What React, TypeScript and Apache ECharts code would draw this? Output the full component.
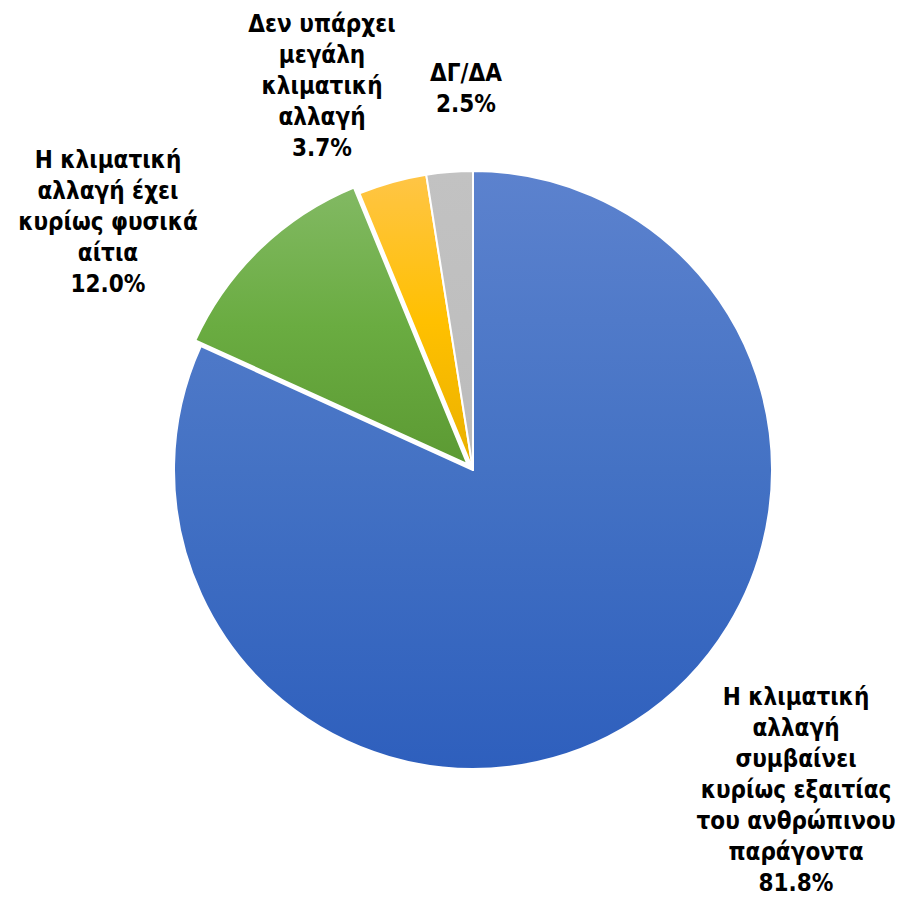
import React, { useEffect, useRef } from "react";
import * as echarts from "echarts";

const categories = [
  "Η κλιματική\nαλλαγή\nσυμβαίνει\nκυρίως εξαιτίας\nτου ανθρώπινου\nπαράγοντα",
  "Η κλιματική\nαλλαγή έχει\nκυρίως φυσικά\nαίτια",
  "Δεν υπάρχει\nμεγάλη\nκλιματική\nαλλαγή",
  "ΔΓ/ΔΑ",
];
const values = [81.8, 12.0, 3.7, 2.5];
const exploded = [false, true, false, false];

const gradients = [
  ["#5C82CE", "#4472C4", "#2E5FBD"],
  ["#82B963", "#6AAC41", "#5C9A33"],
  ["#FFC546", "#FFC000", "#E9B000"],
  ["#C2C2C2", "#BFBFBF", "#BBBBBB"],
];

// label block centers (px) in the 905x899 canvas
const labelCenters = [
  [796, 790],
  [108, 222],
  [322, 86],
  [466, 88],
];

export default function App() {
  const ref = useRef<HTMLDivElement>(null);
  useEffect(() => {
    document.body.style.margin = "0";
    const chart = echarts.init(ref.current!, undefined, { renderer: "svg" });
    const pieData = values.map((v, i) => ({
      name: categories[i],
      value: v,
      selected: exploded[i],
      itemStyle: {
        color: new echarts.graphic.LinearGradient(0, 0, 0, 1, [
          { offset: 0, color: gradients[i][0] },
          { offset: 0.5, color: gradients[i][1] },
          { offset: 1, color: gradients[i][2] },
        ]),
      },
    }));
    const labelData = values.map((v, i) => ({ name: categories[i], value: v }));
    const common = {
      type: "pie",
      center: [473, 470],
      radius: 299,
      startAngle: 90,
      clockwise: true,
      avoidLabelOverlap: false,
      emphasis: { disabled: true },
      labelLine: { show: false },
    };
    chart.setOption({
      animation: false,
      backgroundColor: "#ffffff",
      series: [
        {
          ...common,
          selectedMode: "single",
          selectedOffset: 8,
          itemStyle: { borderColor: "#ffffff", borderWidth: 2 },
          label: { show: false },
          data: pieData,
        },
        {
          ...common,
          silent: true,
          itemStyle: { color: "rgba(0,0,0,0)", borderWidth: 0 },
          label: {
            show: true,
            position: "outside",
            formatter: (p: any) => `${p.name}\n${values[p.dataIndex].toFixed(1)}%`,
            fontFamily: "DejaVu Sans Condensed",
            fontWeight: "bold",
            fontSize: 24,
            lineHeight: 31,
            color: "#000000",
            align: "center",
          },
          labelLayout: (p: any) => ({
            x: labelCenters[p.dataIndex][0],
            y: labelCenters[p.dataIndex][1],
            align: "center",
            verticalAlign: "middle",
          }),
          data: labelData,
        },
      ],
    });
    return () => chart.dispose();
  }, []);
  return <div ref={ref} style={{ width: 905, height: 899 }} />;
}
